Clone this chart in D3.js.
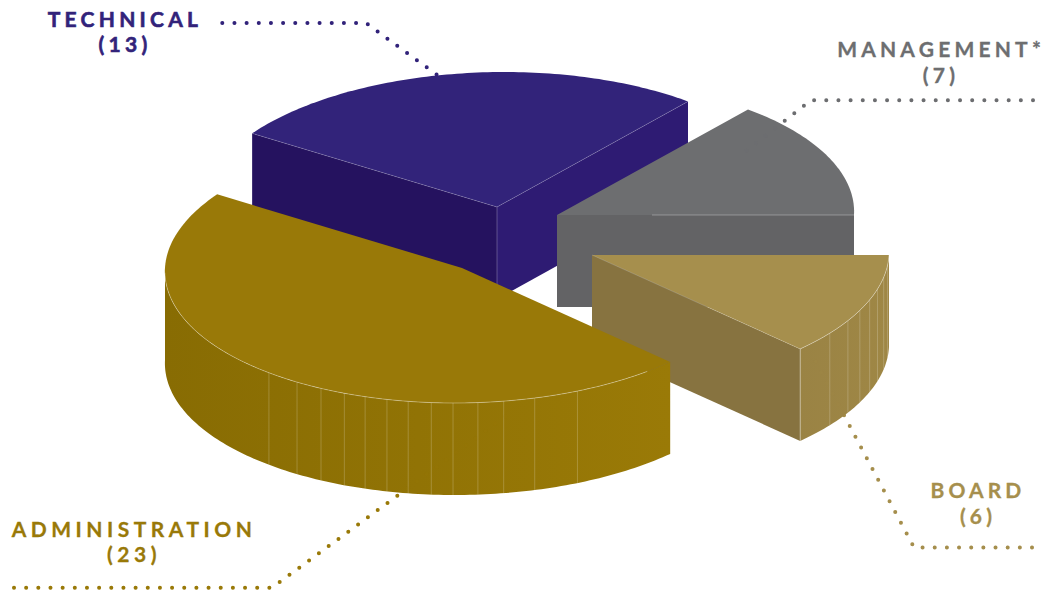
<!DOCTYPE html>
<html>
<head>
<meta charset="utf-8">
<script src="https://cdn.jsdelivr.net/npm/d3@7/dist/d3.min.js"></script>
<style>
  html, body { margin: 0; padding: 0; background: #fff; }
  svg { display: block; }
  text { font-family: Lato, sans-serif; font-weight: 700; text-anchor: middle; }
</style>
</head>
<body>
<svg id="chart" width="1041" height="591"></svg>
<script>
// Staff counts, in the order they run clockwise from the 3 o'clock edge.
const categories = ["Board", "Administration", "Technical", "Management"];
const headcounts = [6, 23, 13, 7];
const labelNames = ["BOARD", "ADMINISTRATION", "TECHNICAL", "MANAGEMENT*"];

// Where the rim seams of the outer wall fall, in degrees clockwise from 3 o'clock.
const boardSeams = [35.4, 29.1, 24.2, 19.4, 14.6, 9.5, 4.4];
const adminSeams = [129.1, 122.3, 116.9, 111.9, 107.6, 103.2, 99, 94.5, 90.3, 85.5, 80.5, 74.4, 65.7];
const seamsByCategory = { Board: boardSeams, Administration: adminSeams };

// Pulled-apart apex of each wedge.
const apex = {
  Board: [592, 255], Administration: [462, 268],
  Technical: [497, 207], Management: [557, 215]
};

const palette = {
  Board: { top: "#a68f4d", cut: "#877340", rim: ["#9f8745", "#9a8344"], text: "#a68f4d" },
  Administration: { top: "#997908", cut: "#997908", rim: ["#9a7a07", "#886c03"], text: "#997908" },
  Technical: { top: "#32237a", cut: "#25125f", cut2: "#2e1b73", text: "#32237a" },
  Management: { top: "#6d6e70", cut: "#636365", text: "#6d6e70" }
};

// Callout text and the dotted leader that ties it to its wedge.
const callouts = {
  Board: { x: 978, y: [498, 524], spacing: 4.1, weight: 0.3, line: [[1032, 547.5], [914, 547.5], [810, 351]] },
  Administration: { x: 134, y: [537, 562], spacing: 4.5, weight: 0.3, line: [[14, 587.7], [272, 587.7], [510, 413]] },
  Technical: { x: 125, y: [27, 52], spacing: 4.25, weight: 0.6, line: [[222.3, 23], [366, 23], [442, 78.5]] },
  Management: { x: 941, y: [57, 83], spacing: 4.2, weight: 0.3, line: [[1033, 100.3], [811, 100.3], [745, 152]] }
};

const radiusX = 297, radiusY = 135, depth = 92, shear = 0.055;
const svg = d3.select("#chart");
const deg = Math.PI / 180;

// d3.pie angles are measured from 12 o'clock; the first wedge starts at 3 o'clock.
const slices = d3.pie().sort(null).startAngle(Math.PI / 2).endAngle(Math.PI / 2 + 2 * Math.PI)(headcounts)
  .map((s, i) => ({ ...s, name: categories[i], label: labelNames[i], value: headcounts[i] }));

const toScreenAngle = a => a - Math.PI / 2;

function project(name, theta, drop = 0) {
  const [cx, cy] = apex[name];
  const sx = radiusX * Math.cos(theta), sy = radiusY * Math.sin(theta);
  return [cx + sx - shear * sy, cy + sy + drop];
}

function rim(name, t0, t1, drop = 0) {
  const n = Math.max(2, Math.ceil(Math.abs(t1 - t0) / (1 * deg)));
  return d3.range(n + 1).map(i => project(name, t0 + (t1 - t0) * i / n, drop));
}

const line = d3.line();
const closed = pts => line(pts) + "Z";

// Leaders sit behind the wedges, with a faint echo across them further down.
const leaderLayer = svg.append("g");
const drawLeader = (layer, s, opacity) => layer.append("path")
  .attr("d", line(callouts[s.name].line))
  .attr("fill", "none")
  .attr("stroke", palette[s.name].text)
  .attr("stroke-width", 4)
  .attr("stroke-linecap", "round")
  .attr("stroke-dasharray", "0 12.16")
  .attr("opacity", opacity);
slices.forEach(s => drawLeader(leaderLayer, s, 1));

const defs = svg.append("defs");
["Administration", "Board"].forEach(name => {
  const g = defs.append("linearGradient").attr("id", "wall-" + name)
    .attr("x1", 1).attr("x2", 0).attr("y1", 0).attr("y2", 0);
  g.append("stop").attr("offset", "0%").attr("stop-color", palette[name].rim[0]);
  g.append("stop").attr("offset", "100%").attr("stop-color", palette[name].rim[1]);
});

const seamStroke = "rgba(255,255,255,0.2)";

// Painter's order: back wedges first, the big front wedge last.
["Technical", "Management", "Board", "Administration"].forEach(name => {
  const s = slices.find(d => d.name === name);
  const t0 = toScreenAngle(s.startAngle), t1 = toScreenAngle(s.endAngle);
  const g = svg.append("g").attr("class", "wedge").attr("data-value", s.value);
  const p0 = project(name, t0), p1 = project(name, t1);
  const c = apex[name];
  const down = p => [p[0], p[1] + depth];
  const quad = (a, b) => [a, b, down(b), down(a)];
  const col = palette[name];

  if (name === "Technical") {
    g.append("path").attr("d", closed(quad(c, p1))).attr("fill", col.cut2);
    g.append("path").attr("d", closed(quad(p0, c))).attr("fill", col.cut);
    g.append("path").attr("d", line([c, down(c)])).attr("stroke", "rgba(255,255,255,0.25)").attr("fill", "none");
  }
  if (name === "Management") {
    g.append("path").attr("d", closed(quad(c, project(name, t1)))).attr("fill", col.cut);
  }
  if (name === "Board" || name === "Administration") {
    const a = t0, b = Math.min(t1, Math.PI);
    const upper = rim(name, a, b), lower = rim(name, b, a, depth);
    g.append("path").attr("d", closed(upper.concat(lower))).attr("fill", `url(#wall-${name})`);
    seamsByCategory[name].forEach(d => {
      const top = project(name, d * deg);
      g.append("path").attr("d", line([top, down(top)])).attr("stroke", seamStroke).attr("fill", "none");
    });
  }
  if (name === "Board") {
    g.append("path").attr("d", closed(quad(c, project(name, t1)))).attr("fill", col.cut);
    const corner = project(name, t1);
    g.append("path").attr("d", line([corner, down(corner)])).attr("stroke", "rgba(255,255,255,0.4)").attr("fill", "none");
  }

  // Top face
  g.append("path").attr("d", closed([c].concat(rim(name, t0, t1)))).attr("fill", col.top);

  // Thin highlights along the visible top edges
  if (name === "Technical") {
    g.append("path").attr("d", line([p0, c, p1])).attr("stroke", "rgba(255,255,255,0.22)").attr("fill", "none").attr("stroke-width", 0.8);
  }
  if (name === "Management") {
    g.append("path").attr("d", line([[c[0] + 95, c[1]], project(name, t1)])).attr("stroke", "rgba(255,255,255,0.3)").attr("fill", "none");
  }
  if (name === "Board") {
    g.append("path").attr("d", line(rim(name, t0, t1))).attr("stroke", "rgba(255,255,255,0.45)").attr("fill", "none").attr("stroke-width", 0.8);
    g.append("path").attr("d", line([c, project(name, t1)])).attr("stroke", "rgba(255,255,255,0.22)").attr("fill", "none").attr("stroke-width", 0.8);
  }
  if (name === "Administration") {
    g.append("path").attr("d", line(rim(name, 50 * deg, 178 * deg))).attr("stroke", "rgba(255,255,255,0.42)").attr("fill", "none").attr("stroke-width", 0.8);
  }
});

// Faint trace of each leader where it crosses a wedge.
const echo = svg.append("g");
slices.forEach(s => drawLeader(echo, s, 0.12));

// Callout labels; the footnote mark carries no trailing letter-space so it stays on the page.
slices.forEach(s => {
  const c = callouts[s.name];
  [s.label, `(${s.value})`].forEach((txt, i) => {
    const footnoted = txt.endsWith("*");
    const t = svg.append("text")
      .attr("x", footnoted ? c.x - 2 : c.x).attr("y", c.y[i])
      .attr("font-size", 21)
      .attr("letter-spacing", c.spacing)
      .attr("fill", palette[s.name].text)
      .attr("stroke", palette[s.name].text)
      .attr("stroke-width", c.weight);
    if (footnoted) {
      t.append("tspan").text(txt.slice(0, -1));
      t.append("tspan").attr("letter-spacing", 0).text("*");
    } else {
      t.text(txt);
    }
  });
});
</script>
</body>
</html>
